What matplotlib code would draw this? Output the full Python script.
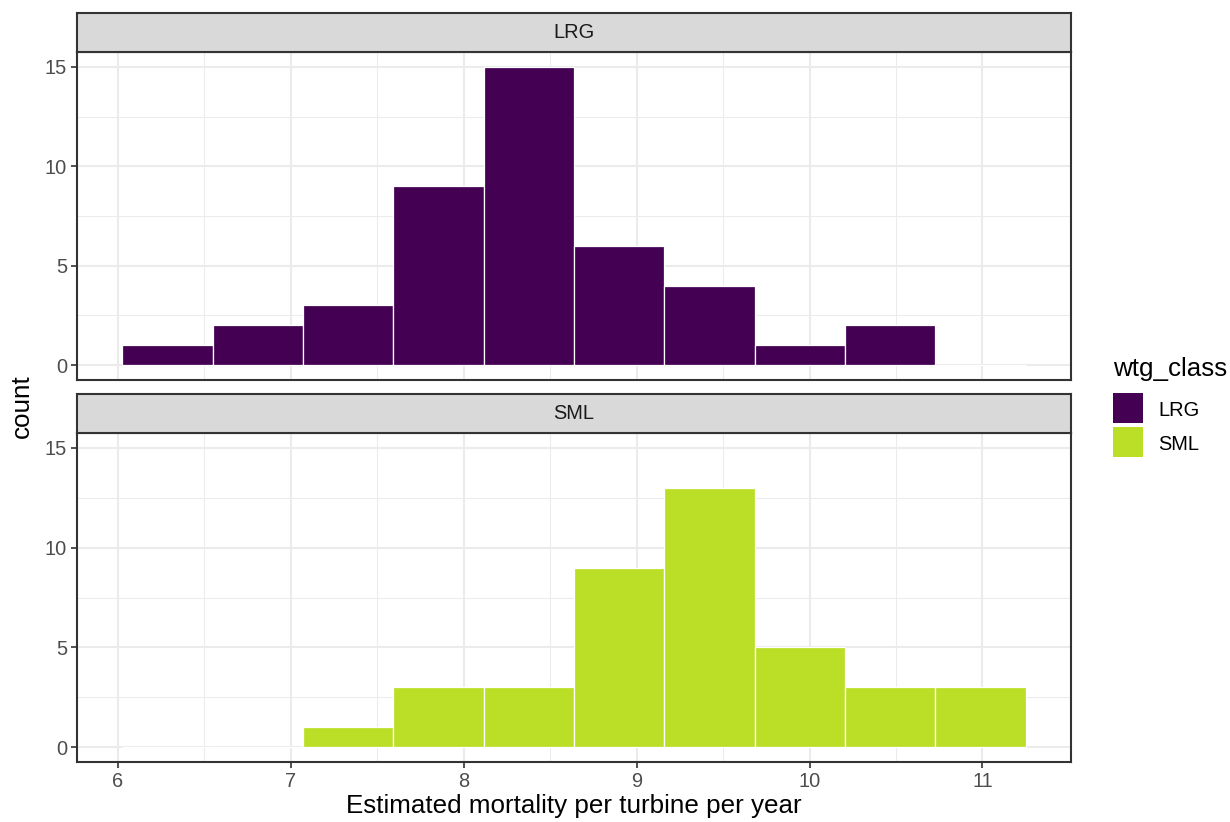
import matplotlib
matplotlib.use("Agg")
import matplotlib.pyplot as plt
from matplotlib.patches import Rectangle
import numpy as np

plt.rcParams['font.family'] = ['Liberation Sans', 'DejaVu Sans']

# histogram data (10 bins, width ~0.5225)
bin_start = 6.025
bin_width = 0.5225
classes = ["LRG", "SML"]
counts_lrg = [1, 2, 3, 9, 15, 6, 4, 1, 2, 0]
counts_sml = [0, 0, 1, 3, 3, 9, 13, 5, 3, 3]
colors = {"LRG": "#440154", "SML": "#BBDF27"}
x_ticks = [6, 7, 8, 9, 10, 11]
y_ticks = [0, 5, 10, 15]

W, H = 1230, 822
fig = plt.figure(figsize=(W / 150, H / 150), dpi=150)

def box(l, t, r, b):
    return [l / W, 1 - b / H, (r - l) / W, (b - t) / H]

edges = bin_start + bin_width * np.arange(len(counts_lrg) + 1)
left_edges = edges[:-1]

panels = [
    ("LRG", counts_lrg, box(77, 52, 1071, 380), box(77, 13, 1071, 52), False),
    ("SML", counts_sml, box(77, 433, 1071, 762), box(77, 394, 1071, 433), True),
]

small = 9.6
big = 12.5
grid_c = "#EBEBEB"
dark = "#333333"
for name, cnt, pbox, sbox, show_x in panels:
    ax = fig.add_axes(pbox)
    ax.bar(left_edges, cnt, width=bin_width, align="edge", color=colors[name],
           edgecolor="white", linewidth=0.6, zorder=3)
    ax.set_xlim(5.763, 11.512)
    ax.set_ylim(-0.75, 15.75)
    ax.set_yticks(y_ticks)
    ax.set_yticks([2.5, 7.5, 12.5], minor=True)
    ax.set_xticks(x_ticks)
    ax.set_xticks([6.5, 7.5, 8.5, 9.5, 10.5], minor=True)
    ax.grid(which="major", color=grid_c, linewidth=1.0, zorder=0)
    ax.grid(which="minor", color=grid_c, linewidth=0.5, zorder=0)
    ax.set_axisbelow(True)
    for s in ax.spines.values():
        s.set_color(dark)
        s.set_linewidth(1.0)
    ax.tick_params(which="minor", length=0)
    ax.tick_params(which="major", length=2.75, width=0.8, color=dark,
                   labelsize=small, labelcolor="#4D4D4D", pad=2)
    if not show_x:
        ax.tick_params(axis="x", which="both", bottom=False, labelbottom=False)

    sax = fig.add_axes(sbox)
    sax.set_facecolor("#D9D9D9")
    sax.set_xticks([])
    sax.set_yticks([])
    for s in sax.spines.values():
        s.set_color(dark)
        s.set_linewidth(1.0)
    sax.text(0.5, 0.5, name, ha="center", va="center", fontsize=small,
             color="#1A1A1A", transform=sax.transAxes)

# axis titles
fig.text(574 / W, 1 - 813 / H, "Estimated mortality per turbine per year",
         ha="center", va="baseline", fontsize=big)
fig.text(22 / W, 1 - 406 / H, "count", rotation=90, ha="center", va="center",
         fontsize=big)

# legend drawn by hand to match ggplot's guide layout
fig.text(1113 / W, 1 - 376 / H, "wtg_class", ha="left", va="baseline",
         fontsize=big)
for i, c in enumerate(classes):
    top = 393 + i * 34
    fig.add_artist(Rectangle((1113 / W, 1 - (top + 30) / H), 30 / W, 30 / H,
                             facecolor=colors[c], edgecolor="none",
                             transform=fig.transFigure))
    fig.text(1158 / W, 1 - (top + 22.5) / H, c, ha="left", va="baseline",
             fontsize=small)

fig.savefig("out.png", dpi=150)
